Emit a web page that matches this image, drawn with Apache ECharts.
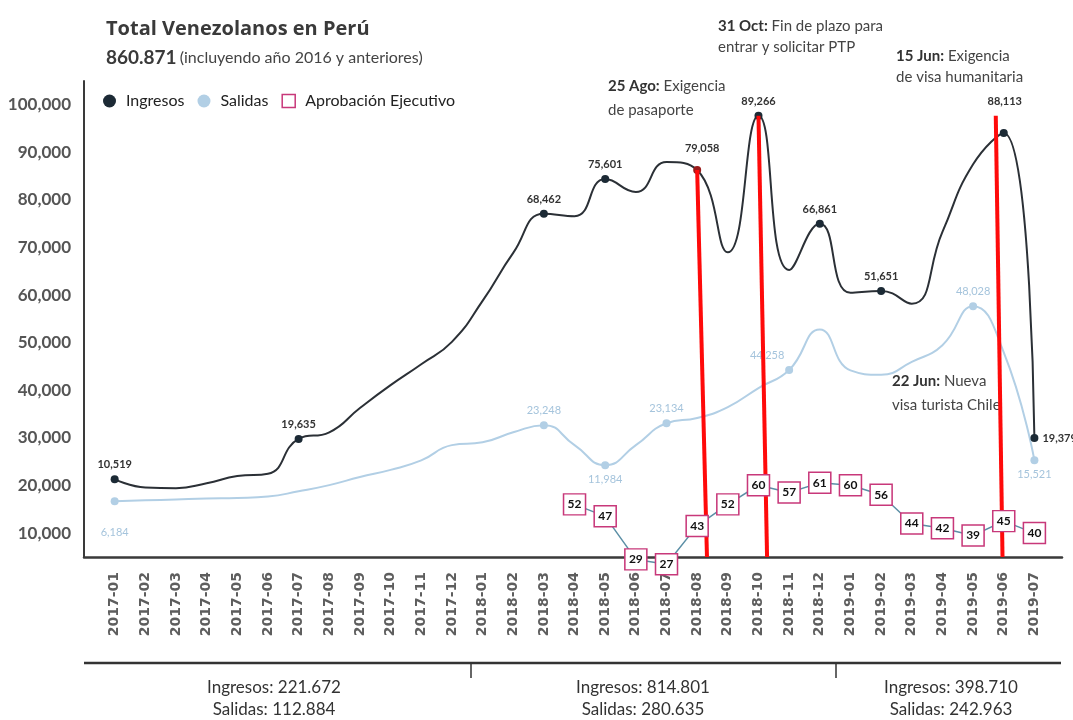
<!DOCTYPE html>
<html>
<head>
<meta charset="utf-8">
<script src="https://cdn.jsdelivr.net/npm/echarts@6/dist/echarts.min.js"></script>
<style>
  html, body { margin: 0; padding: 0; background: #fff; }
  #chart { width: 1073px; height: 720px; }
</style>
</head>
<body>
<div id="chart"></div>
<script>
// months on the x axis
const months = [
  '2017-01', '2017-02', '2017-03', '2017-04', '2017-05', '2017-06', '2017-07', '2017-08',
  '2017-09', '2017-10', '2017-11', '2017-12', '2018-01', '2018-02', '2018-03', '2018-04',
  '2018-05', '2018-06', '2018-07', '2018-08', '2018-09', '2018-10', '2018-11', '2018-12',
  '2019-01', '2019-02', '2019-03', '2019-04', '2019-05', '2019-06', '2019-07'
];
// values as drawn against the left axis
const ingresos = [21350, 19600, 19450, 20500, 22000, 22500, 29800, 31200, 36300, 41100, 45500,
  50200, 58800, 68900, 77100, 76600, 84400, 81700, 88000, 86300, 69000, 97700, 65300, 75000,
  60500, 60900, 58200, 73300, 87500, 94100, 30000];
const salidas = [16700, 16900, 17100, 17300, 17400, 17700, 18800, 20100, 21800, 23300, 25300,
  28500, 29100, 31200, 32700, 28500, 24300, 28500, 33100, 34200, 36500, 40500, 44300, 52800,
  44200, 43300, 46000, 49500, 57700, 48000, 25300];
// printed labels (index, text)
const ingresosTags = [[0, '10,519'], [6, '19,635'], [14, '68,462'], [16, '75,601'], [19, '79,058'],
  [21, '89,266'], [23, '66,861'], [25, '51,651'], [29, '88,113'], [30, '19,379']];
const salidasTags = [[0, '6,184'], [14, '23,248'], [16, '11,984'], [18, '23,134'], [22, '44,258'],
  [28, '48,028'], [30, '15,521']];
// aprobación del ejecutivo, from 2018-04
const aprobacionStart = 15;
const aprobacion = [52, 47, 29, 27, 43, 52, 60, 57, 61, 60, 56, 44, 42, 39, 45, 40];
// red event lines: [x, y] top -> bottom
const eventLines = [
  [[19, 86300], [19.32, 5000]],
  [[21, 97700], [21.28, 5000]],
  [[28.74, 97700], [28.96, 5000]]
];
const yearTotals = [
  ['Ingresos: 221.672', 'Salidas: 112.884'],
  ['Ingresos: 814.801', 'Salidas: 280.635'],
  ['Ingresos: 398.710', 'Salidas: 242.963']
];

const FONT = 'Lato';
const DARK = '#2b3036';
const LIGHT = '#b2cfe5';
const PINK = '#c8387a';

const ingPos = { 29: { offset: [1, -17] }, 30: { position: 'right', distance: 4 }, 19: { offset: [5, -7] } };
const salPos = {
  0: { position: 'bottom', distance: 22 }, 16: { position: 'bottom' }, 30: { position: 'bottom' },
  22: { offset: [-22, 0] }
};

const ingData = ingresos.map((v, i) => {
  const tag = ingresosTags.find(t => t[0] === i);
  if (!tag) return { value: [i, v], symbol: 'none' };
  return {
    value: [i, v], symbol: 'circle', symbolSize: 8,
    itemStyle: { color: i === 19 ? '#9b1b1b' : '#1c2a35' },
    label: Object.assign({ show: true, formatter: tag[1], position: 'top', distance: 5 }, ingPos[i] || {})
  };
});
const salData = salidas.map((v, i) => {
  const tag = salidasTags.find(t => t[0] === i);
  if (!tag) return { value: [i, v], symbol: 'none' };
  return {
    value: [i, v], symbol: 'circle', symbolSize: 8,
    label: Object.assign({ show: true, formatter: tag[1], position: 'top', distance: 5 }, salPos[i] || {})
  };
});
const aprData = aprobacion.map((v, k) => [aprobacionStart + k, v]);

function note(x, y, lh, head, rest) {
  return {
    type: 'text', left: x, top: y,
    style: {
      text: '{b|' + head + '} ' + rest,
      font: '15px ' + FONT, fill: '#444', lineHeight: lh,
      rich: { b: { fontWeight: 'bold', fontSize: 15, fontFamily: FONT, fill: '#333', lineHeight: lh } }
    }
  };
}

const graphics = [
  note(608, 74, 24, '25 Ago:', 'Exigencia\nde pasaporte'),
  note(718, 16, 21, '31 Oct:', 'Fin de plazo para\nentrar y solicitar PTP'),
  note(896, 46, 21, '15 Jun:', 'Exigencia\nde visa humanitaria'),
  note(892, 369, 24, '22 Jun:', 'Nueva\nvisa turista Chile'),
  { type: 'line', shape: { x1: 84, y1: 663, x2: 1061, y2: 663 }, style: { stroke: '#333', lineWidth: 2.5 } },
  { type: 'line', shape: { x1: 471, y1: 663, x2: 471, y2: 678 }, style: { stroke: '#333', lineWidth: 1.5 } },
  { type: 'line', shape: { x1: 836, y1: 663, x2: 836, y2: 678 }, style: { stroke: '#333', lineWidth: 1.5 } }
];
[274, 643, 951].forEach((cx, k) => {
  graphics.push({
    type: 'text', x: cx, y: 677,
    style: {
      text: yearTotals[k][0] + '\n' + yearTotals[k][1], align: 'center',
      font: '17px ' + FONT, fill: '#333', lineHeight: 22
    }
  });
});

const chart = echarts.init(document.getElementById('chart'));
chart.setOption({
  animation: false,
  backgroundColor: '#fff',
  textStyle: { fontFamily: FONT },
  title: {
    text: 'Total Venezolanos en Perú',
    subtext: '{n|860.871} {s|(incluyendo año 2016 y anteriores)}',
    left: 101, top: 14, itemGap: 9,
    textStyle: { fontFamily: 'Open Sans', fontSize: 20, fontWeight: 'bold', color: '#3a3a3a' },
    subtextStyle: {
      rich: {
        n: { fontFamily: FONT, fontSize: 19, fontWeight: 'bold', color: '#3a3a3a' },
        s: { fontFamily: FONT, fontSize: 16, color: '#444' }
      }
    }
  },
  legend: {
    left: 98, top: 88, itemWidth: 13, itemHeight: 13, itemGap: 13,
    textStyle: { fontFamily: FONT, fontSize: 16, color: '#222', padding: [0, 0, 0, 5] },
    data: [
      { name: 'Ingresos', icon: 'circle', itemStyle: { color: '#1c2a35' } },
      { name: 'Salidas', icon: 'circle', itemStyle: { color: LIGHT } },
      { name: 'Aprobación Ejecutivo', icon: 'rect', itemStyle: { color: '#fff', borderColor: PINK, borderWidth: 1.5 } }
    ]
  },
  grid: { left: 84, right: 11, top: 81, bottom: 163 },
  xAxis: {
    type: 'value', min: -1, max: 30.9, interval: 1,
    axisLine: { show: true, onZero: false, lineStyle: { color: '#3a3a3a', width: 2.5 } },
    axisTick: { show: false },
    splitLine: { show: false },
    axisLabel: {
      rotate: 90, margin: 15, fontFamily: 'DejaVu Sans', fontSize: 14, fontWeight: 'bold', color: '#5e5e5e',
      showMinLabel: false, showMaxLabel: false,
      formatter: v => (Number.isInteger(v) && months[v]) ? months[v] : ''
    }
  },
  yAxis: [{
    type: 'value', min: 5000, max: 105000, interval: 5000,
    axisLine: { show: true, onZero: false, lineStyle: { color: '#3a3a3a', width: 2 } },
    axisTick: { show: false },
    splitLine: { show: false },
    axisLabel: {
      margin: 13, fontFamily: FONT, fontSize: 17, fontWeight: 'bold', color: '#555',
      formatter: v => (v % 10000 === 0 && v >= 10000) ? v.toLocaleString('en-US') : ''
    }
  }, {
    type: 'value', min: 30, max: 229, show: false, splitLine: { show: false }
  }],
  series: [{
    name: 'Ingresos', type: 'line', smooth: true, data: ingData,
    lineStyle: { color: DARK, width: 2 }, itemStyle: { color: '#1c2a35' },
    label: { fontFamily: FONT, fontSize: 11, fontWeight: 'bold', color: '#333' },
    z: 4,
    markLine: {
      silent: true, symbol: 'none', z: 6, label: { show: false },
      lineStyle: { color: '#ff0a0a', width: 4, type: 'solid' },
      data: eventLines.map(l => [{ coord: l[0] }, { coord: l[1] }])
    }
  }, {
    name: 'Salidas', type: 'line', smooth: true, data: salData,
    lineStyle: { color: LIGHT, width: 2 }, itemStyle: { color: LIGHT },
    label: { fontFamily: FONT, fontSize: 11, color: '#a5c4dc' },
    z: 3
  }, {
    name: 'Aprobación Ejecutivo', type: 'line', yAxisIndex: 1, data: aprData, clip: false,
    symbol: 'rect', symbolSize: [22, 21],
    lineStyle: { color: '#5b8fa6', width: 1.5 },
    itemStyle: { color: '#fff', borderColor: PINK, borderWidth: 1.5 },
    label: { show: true, position: 'inside', fontFamily: FONT, fontSize: 12, fontWeight: 'bold', color: '#111' },
    z: 10
  }],
  graphic: graphics
});
</script>
</body>
</html>
